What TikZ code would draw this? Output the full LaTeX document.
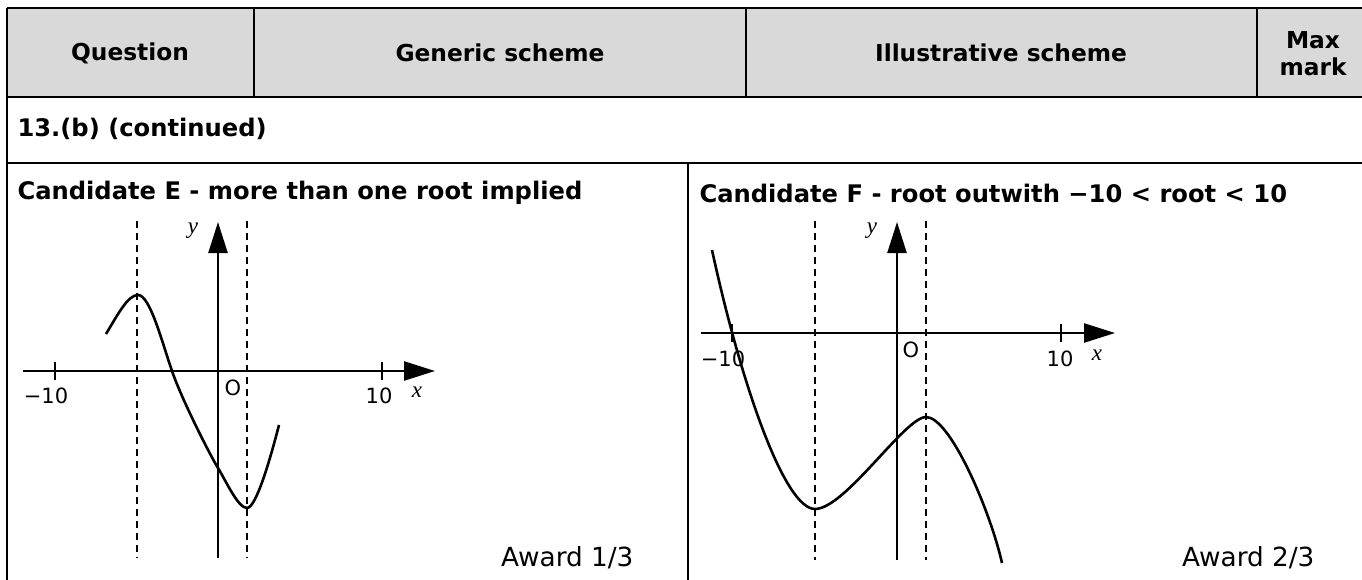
\documentclass[tikz,border=0pt]{standalone}
\usepackage{fontspec}
\setmainfont{DejaVu Sans}
\newfontfamily\serifit{Liberation Serif}
\usetikzlibrary{arrows.meta}
\begin{document}
\begin{tikzpicture}[x=1pt, y=-1pt,
		border/.style={line width=2.6pt},
		divider/.style={line width=1.8pt},
		axisline/.style={line width=2.5pt, -{Triangle[length=31pt, width=19pt]}},
		guide/.style={line width=2.6pt, dash pattern=on 7pt off 5pt},
		graphline/.style={line width=2.6pt, line join=round},
		head/.style={font=\fontsize{23.3}{27}\selectfont\bfseries, align=center},
		title/.style={font=\fontsize{24.2}{28}\selectfont\bfseries, anchor=west},
		num/.style={font=\fontsize{21}{24}\selectfont},
		var/.style={font=\fontsize{23}{24}\selectfont\serifit\itshape},
		award/.style={font=\fontsize{26.3}{28}\selectfont, anchor=base east}]
		\useasboundingbox (0,0) rectangle (1362,580);
		
		% Header row
		\fill[gray!30] (7,8) rectangle (1362,97);
		\draw[border] (7,8) -- (1362,8);
		\draw[border] (7,8) -- (7,580);
		\draw[border] (7,97) -- (1362,97);
		\draw[border] (7,163) -- (1362,163);
		\draw[border] (688,163) -- (688,580);
		\draw[divider] (254,8) -- (254,97);
		\draw[divider] (746,8) -- (746,97);
		\draw[divider] (1257,8) -- (1257,97);
		\node[head] (Q) at (130,53) {Question};
		\node[head] (GS) at (500,53) {Generic scheme};
		\node[head] (IS) at (1001,53) {Illustrative scheme};
		\node[head] (MM) at (1313,54) {Max\\mark};
		\node[title] (R13) at (14,129) {13.(b) (continued)};
		
		% Candidate E
		\node[title] (CE) at (14,193) {Candidate E - more than one root implied};
		\coordinate (xE0) at (23,371);
		\coordinate (xE1) at (435,371);
		\coordinate (yE0) at (218,558);
		\coordinate (yE1) at (218,222);
		\draw[guide] (137,221) -- (137,558);
		\draw[guide] (247,221) -- (247,558);
		\draw[border] (55,362) -- (55,380);
		\draw[border] (382,362) -- (382,380);
		\draw[axisline] (xE0) -- (xE1);
		\draw[axisline] (yE0) -- (yE1);
		\draw[graphline] (106,334) .. controls (118,314) and (128,295) .. (138,295)
			.. controls (150,295) and (162,342) .. (172,371)
			.. controls (182,400) and (210,455) .. (218,468)
			.. controls (226,481) and (238,508) .. (247,508)
			.. controls (256,508) and (270,460) .. (279,425);
		\node[num] (mE) at (46,396) {−10};
		\node[num] (pE) at (379,396) {10};
		\node[num] (oE) at (233,388) {O};
		\node[var] (xE) at (417,392) {x};
		\node[var] (yE) at (193,231) {y};
		\node[award] (AE) at (637,566) {Award 1/3};
		
		% Candidate F
		\node[title] (CF) at (696,193) {Candidate F - root outwith −10 < root < 10};
		\coordinate (xF0) at (701,333);
		\coordinate (xF1) at (1115,333);
		\coordinate (yF0) at (897,560);
		\coordinate (yF1) at (897,222);
		\draw[guide] (815,221) -- (815,560);
		\draw[guide] (926,221) -- (926,560);
		\draw[border] (732,324) -- (732,342);
		\draw[border] (1061,324) -- (1061,342);
		\draw[axisline] (xF0) -- (xF1);
		\draw[axisline] (yF0) -- (yF1);
		\draw[graphline] (712,250) .. controls (742,388) and (785,509) .. (815,509)
			.. controls (845,509) and (905,417) .. (926,417)
			.. controls (950,417) and (990,510) .. (1002,563);
		\node[num] (mF) at (723,359) {−10};
		\node[num] (pF) at (1060,359) {10};
		\node[num] (oF) at (911,350) {O};
		\node[var] (xF) at (1097,355) {x};
		\node[var] (yF) at (872,231) {y};
		\node[award] (AF) at (1318,566) {Award 2/3};
		
	\end{tikzpicture}
\end{document}
